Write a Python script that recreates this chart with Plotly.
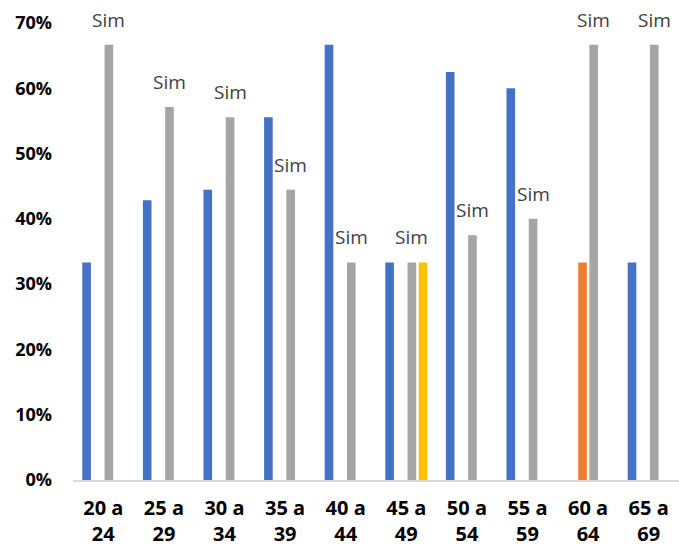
import plotly.graph_objects as go

# Age brackets on the x axis (two-line labels)
categories = ["20 a<br>24", "25 a<br>29", "30 a<br>34", "35 a<br>39", "40 a<br>44",
              "45 a<br>49", "50 a<br>54", "55 a<br>59", "60 a<br>64", "65 a<br>69"]

# Share of answers per bracket (None = no bar)
blue_vals = [1/3, 3/7, 4/9, 5/9, 2/3, 1/3, 5/8, 0.60, None, 1/3]
orange_vals = [None, None, None, None, None, None, None, None, 1/3, None]
gray_vals = [2/3, 4/7, 5/9, 4/9, 1/3, 1/3, 3/8, 0.40, 2/3, 2/3]
yellow_vals = [None, None, None, None, None, 1/3, None, None, None, None]

gray_label = "Sim"
y_ticks = [0, 0.1, 0.2, 0.3, 0.4, 0.5, 0.6, 0.7]

series = [
    ("Série 1", blue_vals, "#4472C4"),
    ("Série 2", orange_vals, "#ED7D31"),
    ("Sim", gray_vals, "#A5A5A5"),
    ("Série 4", yellow_vals, "#FFC000"),
]

fig = go.Figure()
for name, vals, color in series:
    fig.add_trace(go.Bar(x=categories, y=vals, name=name,
                         marker=dict(color=color, line=dict(width=0))))

# "Sim" labels above the gray bars (gray is the third of four slots)
W, H = 679, 549
margin = dict(l=73, r=0, t=23, b=69)
bargap, bargroupgap = 0.265, 0.225
cat_px = (W - margin["l"] - margin["r"]) / len(categories)
slot_px = cat_px * (1 - bargap) / 4
gray_shift = 0.5 * slot_px

for cat, v in zip(categories, gray_vals):
    if v is None:
        continue
    fig.add_annotation(x=cat, y=v, text=gray_label, showarrow=False,
                       xanchor="center", yanchor="bottom",
                       xshift=gray_shift, yshift=10,
                       font=dict(family="Open Sans", size=19, color="#404040"))

fig.update_layout(
    width=W, height=H,
    margin=margin,
    barmode="group",
    bargap=bargap,
    bargroupgap=bargroupgap,
    showlegend=False,
    plot_bgcolor="white",
    paper_bgcolor="white",
    font=dict(family="Open Sans", color="black"),
)

fig.update_xaxes(
    automargin=False,
    showgrid=False,
    showline=True, linecolor="#D9D9D9", linewidth=1.5,
    ticks="", ticklabelstandoff=9,
    tickfont=dict(family="Open Sans", size=20, color="black", weight="bold"),
)

fig.update_yaxes(
    automargin=False,
    range=[0, 0.7],
    tickvals=y_ticks,
    tickformat=".0%",
    showgrid=False, zeroline=False, showline=False,
    ticks="", ticklabelstandoff=20,
    tickfont=dict(family="Open Sans", size=18, color="black", weight="bold"),
)

fig.write_html("out.html")
